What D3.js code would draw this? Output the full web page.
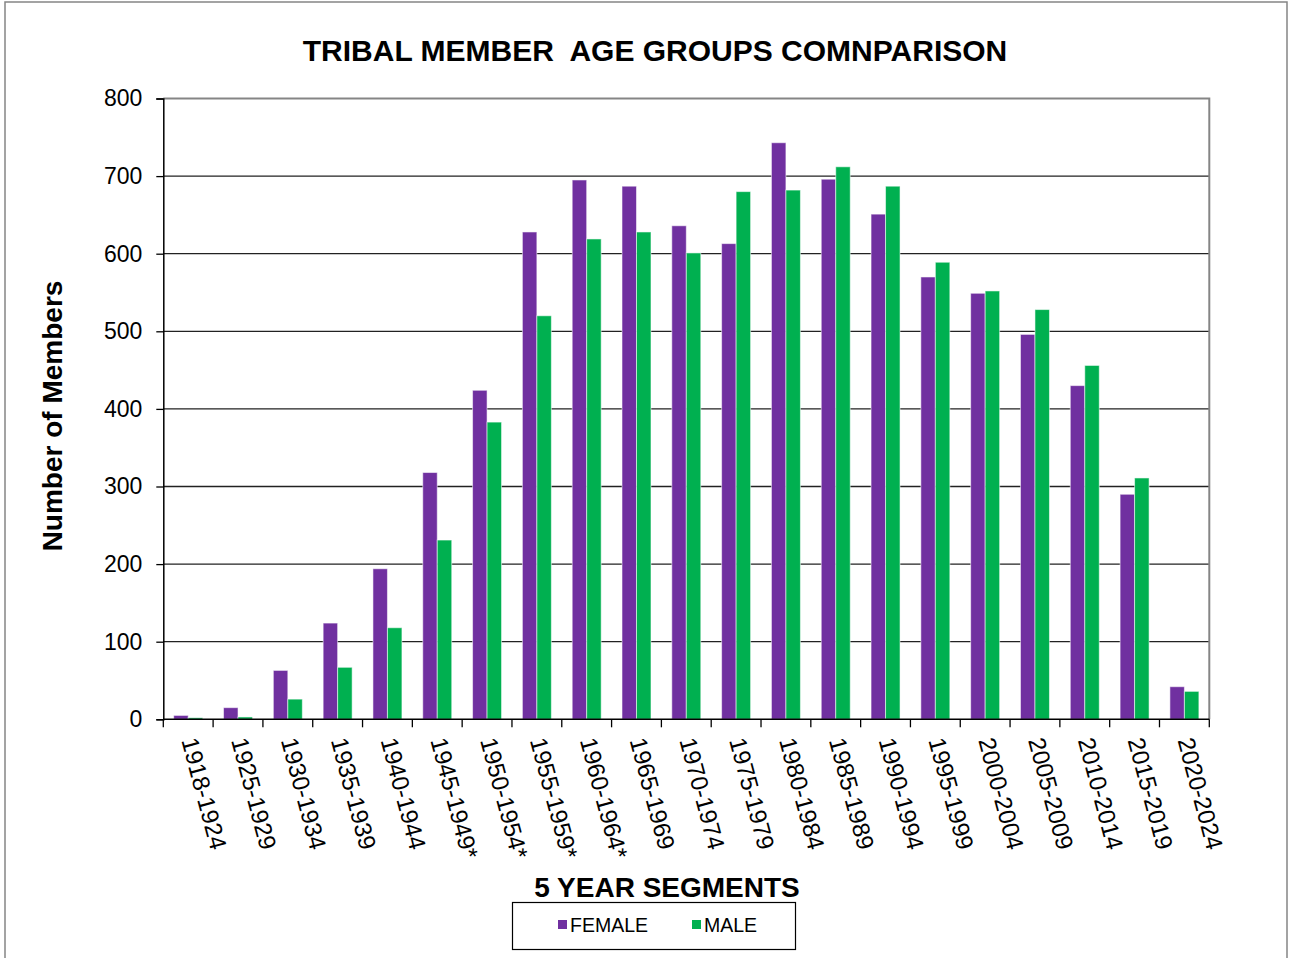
<!DOCTYPE html>
<html lang="en">
<head>
    <meta charset="utf-8">
    <title>Tribal Member Age Groups</title>
    <script src="https://d3js.org/d3.v7.min.js" charset="utf-8"></script>
    <style type="text/css">
        body {
            margin: 0;
            background: #fff;
            font-family: Arial, 'Liberation Sans', sans-serif;
        }
        svg text {
            font-family: Arial, 'Liberation Sans', sans-serif;
        }
    </style>
</head>
<body>
    <script type="text/javascript">
        // values
        var segments = ["1918-1924", "1925-1929", "1930-1934", "1935-1939", "1940-1944",
                        "1945-1949*", "1950-1954*", "1955-1959*", "1960-1964*", "1965-1969",
                        "1970-1974", "1975-1979", "1980-1984", "1985-1989", "1990-1994",
                        "1995-1999", "2000-2004", "2005-2009", "2010-2014", "2015-2019",
                        "2020-2024"];
        var female = [5, 15, 63, 124, 194, 318, 424, 628, 695, 687, 636, 613, 743, 696, 651,
                      570, 549, 496, 430, 290, 42];
        var male = [2, 3, 26, 67, 118, 231, 383, 520, 619, 628, 601, 680, 682, 712, 687,
                    589, 552, 528, 456, 311, 36];
        var series = ["FEMALE", "MALE"];
        var colors = ["#7030A0", "#00B050"];
        var yTicks = [0, 100, 200, 300, 400, 500, 600, 700, 800];

        var W = 1292, H = 958;
        var mLeft = 163.3, mTop = 98.5;
        var width = 1046, height = 620.8;

        var svg = d3.select("body")
                    .append("svg")
                    .attr("width", W)
                    .attr("height", H);

        // outer frame
        svg.append("rect")
            .attr("x", 5)
            .attr("y", 2)
            .attr("width", 1282)
            .attr("height", 970)
            .attr("fill", "none")
            .attr("stroke", "#858585")
            .attr("stroke-width", 1.5);

        var g = svg.append("g")
                   .attr("transform", "translate(" + mLeft + "," + mTop + ")");

        var x0 = d3.scaleBand()
                   .domain(segments)
                   .range([0, width])
                   .paddingInner(0.418)
                   .paddingOuter(0.209);
        var x1 = d3.scaleBand()
                   .domain(series)
                   .range([0, x0.bandwidth()]);
        var y = d3.scaleLinear()
                  .domain([0, 800])
                  .range([height, 0]);

        // gridlines
        g.selectAll("line.grid")
            .data(yTicks.slice(1, -1))
            .enter()
            .append("line")
            .attr("class", "grid")
            .attr("x1", 0)
            .attr("x2", width)
            .attr("y1", function(d) { return y(d); })
            .attr("y2", function(d) { return y(d); })
            .attr("stroke", "#222")
            .attr("stroke-width", 1.3);

        // plot border top / right (gray)
        g.append("path")
            .attr("d", "M0," + y(800) + "H" + width + "V" + height)
            .attr("fill", "none")
            .attr("stroke", "#858585")
            .attr("stroke-width", 2);

        var rows = segments.map(function(s, i) {
            return {segment: s, values: [female[i], male[i]]};
        });

        var groups = g.selectAll("g.seg")
            .data(rows)
            .enter()
            .append("g")
            .attr("class", "seg")
            .attr("transform", function(d) { return "translate(" + x0(d.segment) + ",0)"; });

        groups.selectAll("rect")
            .data(function(d) {
                return d.values.map(function(v, j) { return {key: series[j], value: v, j: j}; });
            })
            .enter()
            .append("rect")
            .attr("x", function(d) { return x1(d.key); })
            .attr("y", function(d) { return y(d.value); })
            .attr("width", x1.bandwidth())
            .attr("height", function(d) { return height - y(d.value); })
            .attr("fill", function(d) { return colors[d.j]; })
            .attr("stroke", "#fff")
            .attr("stroke-opacity", 0.55)
            .attr("stroke-width", 1);

        // y axis
        var yAxis = g.append("g")
            .attr("id", "yaxis")
            .call(d3.axisLeft(y).tickValues(yTicks).tickSize(7).tickPadding(14));
        yAxis.select(".domain").attr("stroke", "#000").attr("stroke-width", 1.5);
        yAxis.selectAll(".tick line").attr("stroke", "#000").attr("stroke-width", 1.3);
        yAxis.selectAll(".tick text")
            .attr("font-size", "23px")
            .attr("fill", "#000");

        // x axis: ticks at category boundaries
        var step = x0.step();
        var bounds = d3.range(segments.length + 1).map(function(i) { return i * step; });
        var xAxis = g.append("g")
            .attr("id", "xaxis")
            .attr("transform", "translate(0," + height + ")");
        xAxis.append("line")
            .attr("x1", 0)
            .attr("x2", width)
            .attr("stroke", "#000")
            .attr("stroke-width", 1.5);
        xAxis.selectAll("line.tick")
            .data(bounds)
            .enter()
            .append("line")
            .attr("class", "tick")
            .attr("x1", function(d) { return d; })
            .attr("x2", function(d) { return d; })
            .attr("y1", 0)
            .attr("y2", 8)
            .attr("stroke", "#000")
            .attr("stroke-width", 1.3);
        xAxis.selectAll("text")
            .data(segments)
            .enter()
            .append("text")
            .attr("transform", function(d) {
                return "translate(" + (x0(d) + x0.bandwidth() / 2 - 7) + ",21) rotate(75)";
            })
            .attr("font-size", "24px")
            .attr("fill", "#000")
            .text(function(d) { return d; });

        // titles
        svg.append("text")
            .attr("x", 655)
            .attr("y", 61)
            .attr("text-anchor", "middle")
            .attr("font-size", "30px")
            .attr("font-weight", "bold")
            .style("white-space", "pre")
            .text("TRIBAL MEMBER  AGE GROUPS COMNPARISON");

        svg.append("text")
            .attr("transform", "translate(62,416) rotate(-90)")
            .attr("text-anchor", "middle")
            .attr("font-size", "28px")
            .attr("font-weight", "bold")
            .text("Number of Members");

        svg.append("text")
            .attr("x", 667)
            .attr("y", 897)
            .attr("text-anchor", "middle")
            .attr("font-size", "28px")
            .attr("font-weight", "bold")
            .text("5 YEAR SEGMENTS");

        // legend
        var legend = svg.append("g");
        legend.append("rect")
            .attr("x", 512.5)
            .attr("y", 902.5)
            .attr("width", 283)
            .attr("height", 47)
            .attr("fill", "#fff")
            .attr("stroke", "#000")
            .attr("stroke-width", 1.2);
        var lx = [558, 692];
        series.forEach(function(s, i) {
            legend.append("rect")
                .attr("x", lx[i])
                .attr("y", 920)
                .attr("width", 9)
                .attr("height", 9)
                .attr("fill", colors[i]);
            legend.append("text")
                .attr("x", lx[i] + 12)
                .attr("y", 932)
                .attr("font-size", "19.5px")
                .text(s);
        });
    </script>
</body>
</html>
